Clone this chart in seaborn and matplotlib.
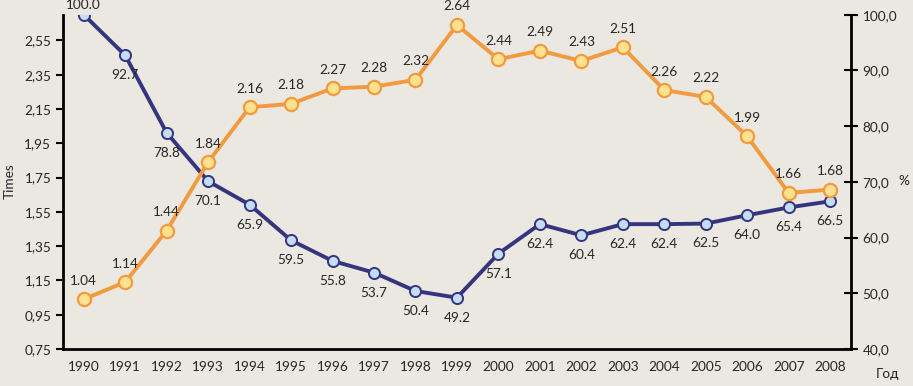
import matplotlib
matplotlib.use("Agg")
import matplotlib.pyplot as plt
from matplotlib.ticker import FixedLocator, FuncFormatter
import seaborn as sns
import pandas as pd

years = list(range(1990, 2009))
times_vals = [1.04, 1.14, 1.44, 1.84, 2.16, 2.18, 2.27, 2.28, 2.32, 2.64,
              2.44, 2.49, 2.43, 2.51, 2.26, 2.22, 1.99, 1.66, 1.68]
pct_vals = [100.0, 92.7, 78.8, 70.1, 65.9, 59.5, 55.8, 53.7, 50.4, 49.2,
            57.1, 62.4, 60.4, 62.4, 62.4, 62.5, 64.0, 65.4, 66.5]
left_ticks = [0.75, 0.95, 1.15, 1.35, 1.55, 1.75, 1.95, 2.15, 2.35, 2.55]
right_ticks = [40, 50, 60, 70, 80, 90, 100]

bg = "#ebe7e1"
orange = "#f39a3e"
orange_fill = "#ffe28f"
navy = "#35357f"
navy_fill = "#c4dcf4"
fs = 9.8

sns.set_style("white")
plt.rcParams["font.family"] = ["Lato", "DejaVu Sans"]

df = pd.DataFrame({"year": years, "times": times_vals, "pct": pct_vals})

fig, ax = plt.subplots(figsize=(9.13, 3.86), dpi=100)
fig.patch.set_facecolor(bg)
ax.set_facecolor(bg)
fig.subplots_adjust(left=0.069, right=0.932, bottom=0.096, top=0.962)

sns.lineplot(data=df, x="year", y="times", ax=ax, color=orange, linewidth=2.8,
             marker="o", markersize=9.5, markerfacecolor=orange_fill,
             markeredgecolor=orange, markeredgewidth=1.6)
ax2 = ax.twinx()
sns.lineplot(data=df, x="year", y="pct", ax=ax2, color=navy, linewidth=2.8,
             marker="o", markersize=8, markerfacecolor=navy_fill,
             markeredgecolor=navy, markeredgewidth=1.4)

ax.set_xlim(1989.5, 2008.5)
ax.set_ylim(0.75, 2.70)
ax2.set_ylim(40, 100)

ax.set_xticks(years)
ax.set_xticklabels([str(y) for y in years], fontsize=fs)
ax.xaxis.set_minor_locator(FixedLocator([y + 0.5 for y in years[:-1]]))
ax.tick_params(axis="x", which="major", length=0, pad=9)
ax.tick_params(axis="x", which="minor", length=5, width=1.5, direction="out", color="black")

ax.set_yticks(left_ticks)
ax.yaxis.set_major_formatter(FuncFormatter(lambda v, p: f"{v:.2f}".replace(".", ",")))
ax.tick_params(axis="y", length=5, width=1.5, direction="out", labelsize=fs, color="black")

ax2.set_yticks(right_ticks)
ax2.yaxis.set_major_formatter(FuncFormatter(lambda v, p: f"{v:.1f}".replace(".", ",")))
ax2.tick_params(axis="y", length=10, width=1.5, direction="inout", labelsize=fs, color="black")

for a in (ax, ax2):
    a.spines["top"].set_visible(False)
    for s in ("left", "right", "bottom"):
        a.spines[s].set_color("black")
        a.spines[s].set_linewidth(2)
ax.spines["right"].set_visible(False)
ax2.spines["left"].set_visible(False)
ax2.spines["bottom"].set_visible(False)

ax.set_xlabel("")
ax.set_ylabel("")
ax2.set_ylabel("")
fig.text(0.011, 0.53, "Times", fontsize=fs, rotation=90, ha="center", va="center")
fig.text(0.996, 0.53, "%", fontsize=fs, ha="right", va="center")
fig.text(0.972, 0.03, "Год", fontsize=fs, ha="center", va="center")

for x, y in zip(years, times_vals):
    ax.annotate(f"{y:.2f}", (x, y), xytext=(0, 9), textcoords="offset points",
                ha="center", va="bottom", fontsize=fs)
for i, (x, y) in enumerate(zip(years, pct_vals)):
    if i == 0:
        ax2.annotate(f"{y:.1f}", (x, y), xytext=(0, 3), textcoords="offset points",
                     ha="center", va="bottom", fontsize=fs)
    else:
        ax2.annotate(f"{y:.1f}", (x, y), xytext=(0, -10), textcoords="offset points",
                     ha="center", va="top", fontsize=fs)

ax.set_zorder(ax2.get_zorder() + 1)
ax.patch.set_visible(False)
ax2.patch.set_facecolor(bg)

fig.savefig("out.png", dpi=100, facecolor=bg)
